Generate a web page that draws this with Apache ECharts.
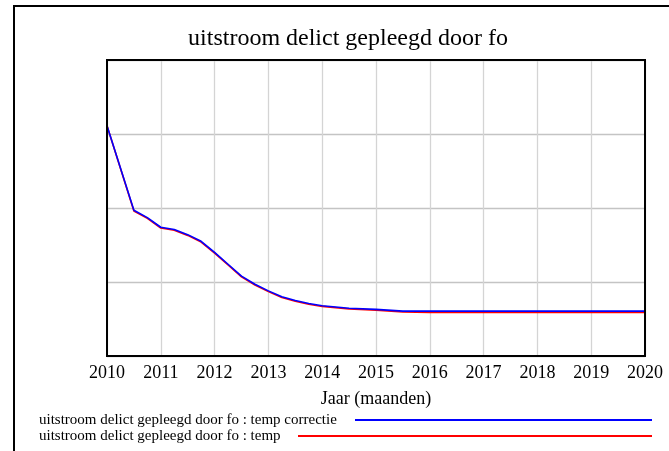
<!DOCTYPE html>
<html>
<head>
<meta charset="utf-8">
<script src="https://cdn.jsdelivr.net/npm/echarts@6/dist/echarts.min.js"></script>
<style>html,body{margin:0;padding:0;background:#fff;}#c{width:669px;height:451px;}</style>
</head>
<body>
<div id="c"></div>
<script>
const titleText = 'uitstroom delict gepleegd door fo';
const xAxisName = 'Jaar (maanden)';
const seriesNames = ['uitstroom delict gepleegd door fo : temp correctie', 'uitstroom delict gepleegd door fo : temp'];
const seriesColors = ['#0000ff', '#ff0000'];
const times = [2010.0, 2010.5, 2010.75, 2011.0, 2011.25, 2011.5, 2011.75, 2012.0, 2012.25, 2012.5, 2012.75, 2013.0, 2013.25, 2013.5, 2013.75, 2014.0, 2014.5, 2015.0, 2015.5, 2016, 2017, 2018, 2019, 2020];
const tempCorrectie = [3.11, 1.97, 1.87, 1.74, 1.71, 1.64, 1.55, 1.40, 1.24, 1.08, 0.97, 0.88, 0.80, 0.75, 0.71, 0.68, 0.645, 0.63, 0.607, 0.607, 0.607, 0.607, 0.607, 0.607];
const temp = [3.11, 1.96, 1.86, 1.73, 1.70, 1.63, 1.54, 1.39, 1.23, 1.07, 0.96, 0.87, 0.79, 0.74, 0.70, 0.67, 0.635, 0.62, 0.595, 0.59, 0.59, 0.59, 0.59, 0.59];
const xTicks = [2010, 2011, 2012, 2013, 2014, 2015, 2016, 2017, 2018, 2019, 2020];

const FONT = '"Liberation Serif", "Times New Roman", serif';
const chart = echarts.init(document.getElementById('c'), null, {renderer: 'canvas'});
const pairs = v => times.map((t, i) => [t, v[i]]);

const legendY = [419, 435];
const legendLineStart = [355, 298];
const graphics = [
  {type: 'rect', z: -10, shape: {x: 14, y: 6, width: 700, height: 500}, style: {fill: 'none', stroke: '#000', lineWidth: 2}},
  {type: 'text', x: 348, y: 39, style: {text: titleText, font: '24px ' + FONT, fill: '#000', textAlign: 'center', textVerticalAlign: 'middle'}}
];
seriesNames.forEach((n, i) => {
  graphics.push({type: 'text', x: 39, y: legendY[i] + 1.5, style: {text: n, font: '15px ' + FONT, fill: '#000', textAlign: 'left', textVerticalAlign: 'middle'}});
  graphics.push({type: 'rect', shape: {x: legendLineStart[i], y: legendY[i], width: 652 - legendLineStart[i], height: 2}, style: {fill: seriesColors[i], stroke: 'none'}});
});

chart.setOption({
  animation: false,
  backgroundColor: '#fff',
  grid: {left: 107, top: 60, width: 538, height: 296, show: true, borderColor: '#000', borderWidth: 2, backgroundColor: 'transparent', z: 5},
  xAxis: {
    type: 'value', min: xTicks[0], max: xTicks[xTicks.length - 1], interval: 1,
    name: xAxisName, nameLocation: 'middle', nameGap: 34,
    nameTextStyle: {fontFamily: FONT, fontSize: 18, color: '#000'},
    axisLine: {show: false}, axisTick: {show: false},
    axisLabel: {fontFamily: FONT, fontSize: 18, color: '#000', margin: 8, formatter: v => String(v)},
    splitLine: {show: true, lineStyle: {color: '#d4d4d4', width: 1.3}}
  },
  yAxis: {
    type: 'value', min: 0, max: 4, interval: 1,
    axisLine: {show: false}, axisTick: {show: false}, axisLabel: {show: false},
    splitLine: {show: true, lineStyle: {color: '#c4c4c4', width: 1.3}}
  },
  series: [
    {name: seriesNames[1], type: 'line', data: pairs(temp), symbol: 'none', lineStyle: {color: seriesColors[1], width: 1.6}, z: 3},
    {name: seriesNames[0], type: 'line', data: pairs(tempCorrectie), symbol: 'none', lineStyle: {color: seriesColors[0], width: 1.6}, z: 4}
  ],
  graphic: graphics
});
</script>
</body>
</html>
